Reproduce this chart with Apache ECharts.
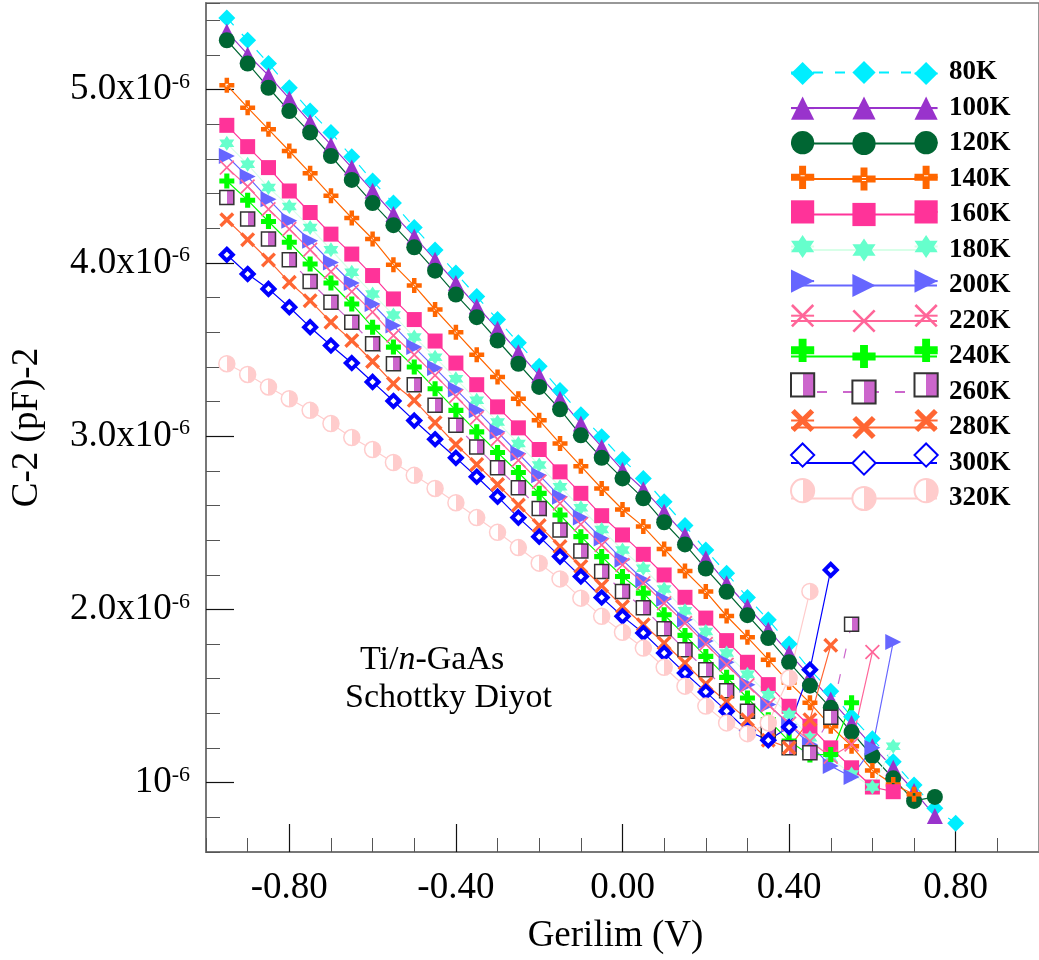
<!DOCTYPE html>
<html><head><meta charset="utf-8">
<script src="https://cdn.jsdelivr.net/npm/echarts@6/dist/echarts.min.js"></script>
<style>html,body{margin:0;padding:0;background:#fff}#c{width:1039px;height:960px}</style>
</head><body><div id="c"></div>
<script>
// Voltage steps (V)
const voltage = [-0.95,-0.90,-0.85,-0.80,-0.75,-0.70,-0.65,-0.60,-0.55,-0.50,-0.45,-0.40,-0.35,-0.30,-0.25,-0.20,-0.15,-0.10,-0.05,0.00,0.05,0.10,0.15,0.20,0.25,0.30,0.35,0.40,0.45,0.50,0.55,0.60,0.65,0.70,0.75,0.80];
const temps = ['80K','100K','120K','140K','160K','180K','200K','220K','240K','260K','280K','300K','320K'];
// C^-2 values in units of 1e-6 (pF)^-2
const c80  = [5.414,5.285,5.151,5.011,4.876,4.752,4.613,4.473,4.345,4.205,4.074,3.942,3.806,3.673,3.539,3.404,3.264,3.124,2.996,2.866,2.756,2.621,2.484,2.343,2.209,2.069,1.940,1.800,1.652,1.528,1.380,1.253,1.121,0.987,0.852,0.766];
const c100 = [5.335,5.203,5.082,4.948,4.813,4.681,4.550,4.416,4.282,4.153,4.018,3.884,3.750,3.620,3.485,3.351,3.216,3.073,2.938,2.804,2.694,2.564,2.430,2.295,2.151,2.017,1.883,1.748,1.614,1.480,1.345,1.211,1.086,0.952,0.808];
const c120 = [5.285,5.151,5.011,4.876,4.752,4.617,4.479,4.345,4.218,4.090,3.955,3.817,3.687,3.552,3.418,3.284,3.155,3.005,2.875,2.756,2.641,2.503,2.375,2.236,2.102,1.967,1.835,1.695,1.560,1.432,1.292,1.154,1.025,0.895,0.918];
const c140 = [5.026,4.896,4.771,4.646,4.518,4.387,4.259,4.138,3.990,3.869,3.731,3.600,3.470,3.341,3.216,3.092,2.957,2.827,2.698,2.577,2.478,2.349,2.222,2.103,1.962,1.839,1.710,1.578,1.461,1.326,1.211,1.071,0.990,0.933];
const c160 = [4.794,4.671,4.550,4.415,4.291,4.166,4.051,3.927,3.792,3.673,3.549,3.422,3.297,3.169,3.048,2.923,2.794,2.670,2.541,2.430,2.318,2.199,2.070,1.950,1.820,1.695,1.566,1.441,1.326,1.201,1.086,0.975,0.948];
const c180 = [4.690,4.569,4.435,4.326,4.205,4.076,3.946,3.821,3.700,3.572,3.456,3.332,3.207,3.082,2.957,2.833,2.708,2.587,2.462,2.343,2.238,2.118,1.993,1.873,1.748,1.626,1.508,1.393,1.259,1.140,1.050,0.975,1.211];
const c200 = [4.617,4.498,4.368,4.243,4.128,4.003,3.884,3.763,3.638,3.514,3.393,3.270,3.149,3.025,2.900,2.775,2.651,2.530,2.410,2.286,2.170,2.060,1.940,1.818,1.695,1.566,1.451,1.336,1.221,1.096,1.033,1.201,1.812];
const c220 = [4.550,4.441,4.310,4.195,4.076,3.949,3.834,3.716,3.581,3.470,3.351,3.230,3.105,2.982,2.861,2.737,2.612,2.491,2.372,2.257,2.151,2.036,1.921,1.800,1.681,1.562,1.450,1.340,1.240,1.150,1.221,1.754];
const c240 = [4.473,4.362,4.239,4.119,3.994,3.884,3.763,3.629,3.514,3.399,3.274,3.149,3.025,2.906,2.790,2.670,2.545,2.420,2.305,2.190,2.094,1.969,1.850,1.729,1.608,1.489,1.364,1.240,1.160,1.163,1.461];
const c260 = [4.378,4.253,4.138,4.018,3.892,3.773,3.658,3.533,3.418,3.297,3.178,3.063,2.938,2.817,2.702,2.583,2.458,2.337,2.219,2.104,2.009,1.888,1.767,1.652,1.531,1.413,1.298,1.201,1.173,1.378,1.915];
const c280 = [4.249,4.134,4.017,3.888,3.782,3.658,3.552,3.431,3.303,3.207,3.078,2.952,2.837,2.721,2.602,2.484,2.363,2.248,2.137,2.017,1.912,1.806,1.691,1.570,1.466,1.364,1.245,1.201,1.364,1.793];
const c300 = [4.047,3.936,3.850,3.744,3.629,3.523,3.422,3.313,3.203,3.090,2.982,2.875,2.766,2.651,2.530,2.420,2.305,2.190,2.069,1.960,1.864,1.748,1.633,1.524,1.413,1.300,1.245,1.321,1.652,2.228];
const c320 = [3.418,3.356,3.284,3.216,3.149,3.073,2.992,2.923,2.848,2.774,2.698,2.616,2.530,2.445,2.357,2.267,2.176,2.065,1.960,1.868,1.777,1.666,1.557,1.442,1.345,1.283,1.345,1.604,2.104];
const seriesValues = [c80,c100,c120,c140,c160,c180,c200,c220,c240,c260,c280,c300,c320];
const xMajorTicks = [-0.8,-0.4,0,0.4,0.8];
const yMajorTicks = [1,2,3,4,5];

const FONT = 'Liberation Serif';
function halfFill(c){
  return new echarts.graphic.LinearGradient(0,0,1,0,[
    {offset:0,color:'#ffffff'},{offset:0.5,color:'#ffffff'},
    {offset:0.5,color:c},{offset:1,color:c}]);
}
const P_PLUS_HOLE = 'path://M35,0H65V35H100V65H65V100H35V65H0V35H35ZM41,41V59H59V41Z';
const P_PLUS = 'path://M33,0H67V33H100V67H67V100H33V67H0V33H33Z';
const P_XBOLD = 'path://M0,16L16,0L50,34L84,0L100,16L66,50L100,84L84,100L50,66L16,100L0,84L34,50Z';
const P_XTHIN = 'path://M0,8L8,0L50,42L92,0L100,8L58,50L100,92L92,100L50,58L8,100L0,92L42,50Z';
const P_STAR6 = 'path://M50,0L93.3,75L6.7,75ZM50,100L6.7,25L93.3,25Z';

const styles = [
  {symbol:'diamond', size:17, fill:'#00EEFF', line:'#00EEFF', dash:[10,12]},
  {symbol:'triangle', size:16, fill:'#9933CC', line:'#9933CC'},
  {symbol:'circle', size:16, fill:'#006633', line:'#006633'},
  {symbol:P_PLUS_HOLE, size:15, fill:'#FF6600', line:'#FF6600'},
  {symbol:'rect', size:15, fill:'#FF3399', line:'#FF3399'},
  {symbol:P_STAR6, size:15, fill:'#66FFCC', line:'#D8FFE8'},
  {symbol:'triangle', rotate:-90, size:16, fill:'#6666FF', line:'#6666FF'},
  {symbol:P_XTHIN, size:15, fill:'#FF6699', line:'#FF6699'},
  {symbol:P_PLUS, size:15, fill:'#00FF00', line:'#00FF00'},
  {symbol:'rect', size:14, fill:halfFill('#CC66CC'), line:'#CC66CC', border:'#333333', bw:1.5, dash:[10,16]},
  {symbol:P_XBOLD, size:15, fill:'#FF6633', line:'#FF6633'},
  {symbol:'diamond', size:12, fill:'#ffffff', line:'#0000FF', border:'#0000FF', bw:4},
  {symbol:'circle', size:16, fill:halfFill('#FFCCCC'), line:'#FFCCCC', border:'#FFCCCC', bw:1.5}
];

const series = temps.map((name, k) => {
  const s = styles[k];
  const vals = seriesValues[k];
  return {
    name, type:'line',
    data: vals.map((v,i)=>[voltage[i], v]),
    symbol: s.symbol, symbolSize: s.size, symbolRotate: s.rotate || 0,
    showAllSymbol: true,
    itemStyle: {color: s.fill, borderColor: s.border || s.fill, borderWidth: s.bw || 0, opacity:1},
    lineStyle: {color: s.line, width: 1.2, type: s.dash || 'solid'},
    emphasis: {disabled: true},
    z: 2
  };
});

const legendBase = {
  orient:'vertical', top:59, padding:0, itemHeight:29, itemGap:8.5,
  selectedMode:false, data: temps,
  textStyle:{fontFamily:FONT, fontWeight:'bold', fontSize:27, color:'#000'}
};

const chart = echarts.init(document.getElementById('c'), null, {renderer:'canvas'});
chart.setOption({
  animation:false,
  backgroundColor:'#fff',
  grid:{left:206, top:3, width:835, height:851, show:true, borderColor:'#777', borderWidth:1.5, backgroundColor:'transparent'},
  xAxis:[
    {type:'value', min:-1, max:1, interval:0.1, position:'bottom',
     axisLine:{show:true, onZero:false, lineStyle:{color:'#777', width:2}},
     axisTick:{show:true, inside:true, length:14, lineStyle:{color:'#555', width:1}},
     axisLabel:{show:false}, splitLine:{show:false}},
    {type:'value', min:-1, max:1, position:'bottom',
     axisLine:{show:false, onZero:false},
     axisTick:{show:true, inside:true, length:28, customValues:xMajorTicks, lineStyle:{color:'#111', width:1.2}},
     axisLabel:{show:true, customValues:xMajorTicks, margin:18, formatter:v=>v.toFixed(2),
       fontFamily:FONT, fontSize:37, color:'#000'},
     splitLine:{show:false},
     name:'Gerilim (V)', nameLocation:'middle', nameGap:66,
     nameTextStyle:{fontFamily:FONT, fontSize:37, color:'#000', padding:[0,14,0,0]}}
  ],
  yAxis:[
    {type:'value', min:0.6, max:5.5, interval:0.2, position:'left',
     axisLine:{show:true, onZero:false, lineStyle:{color:'#777', width:2}},
     axisTick:{show:true, inside:true, length:14, lineStyle:{color:'#555', width:1}},
     axisLabel:{show:false}, splitLine:{show:false}},
    {type:'value', min:0.6, max:5.5, position:'left', offset:0,
     axisLine:{show:false, onZero:false},
     axisTick:{show:true, inside:true, length:28, customValues:yMajorTicks, lineStyle:{color:'#111', width:1.2}},
     axisLabel:{show:true, customValues:yMajorTicks, margin:16,
       formatter:v=> Math.round(v)===1 ? '{m|10}{s|-6}' : '{m|'+v.toFixed(1)+'x10}{s|-6}',
       rich:{m:{fontFamily:FONT, fontSize:37, color:'#000'},
             s:{fontFamily:FONT, fontSize:22, color:'#000', lineHeight:10, verticalAlign:'top'}}},
     splitLine:{show:false},
     name:'C-2 (pF)-2', nameLocation:'middle', nameGap:160, nameRotate:90,
     nameTextStyle:{fontFamily:FONT, fontSize:37, color:'#000'}}
  ],
  legend:[
    Object.assign({}, legendBase, {left:790, itemWidth:146, textStyle:Object.assign({}, legendBase.textStyle, {padding:[0,0,0,7]})}),
    Object.assign({}, legendBase, {left:790, itemWidth:23, formatter:()=>''}),
    Object.assign({}, legendBase, {left:913.5, itemWidth:23, formatter:()=>''})
  ],
  graphic:[
    {type:'text', left:360, top:643, style:{text:'{a|Ti/}{i|n}{a|-GaAs}',
      rich:{a:{fontFamily:FONT, fontSize:34, fill:'#000'}, i:{fontFamily:FONT, fontSize:34, fontStyle:'italic', fill:'#000'}}}},
    {type:'text', left:345, top:681, style:{text:'Schottky Diyot', fontFamily:FONT, fontSize:34, fill:'#000'}}
  ],
  series
});
</script></body></html>
